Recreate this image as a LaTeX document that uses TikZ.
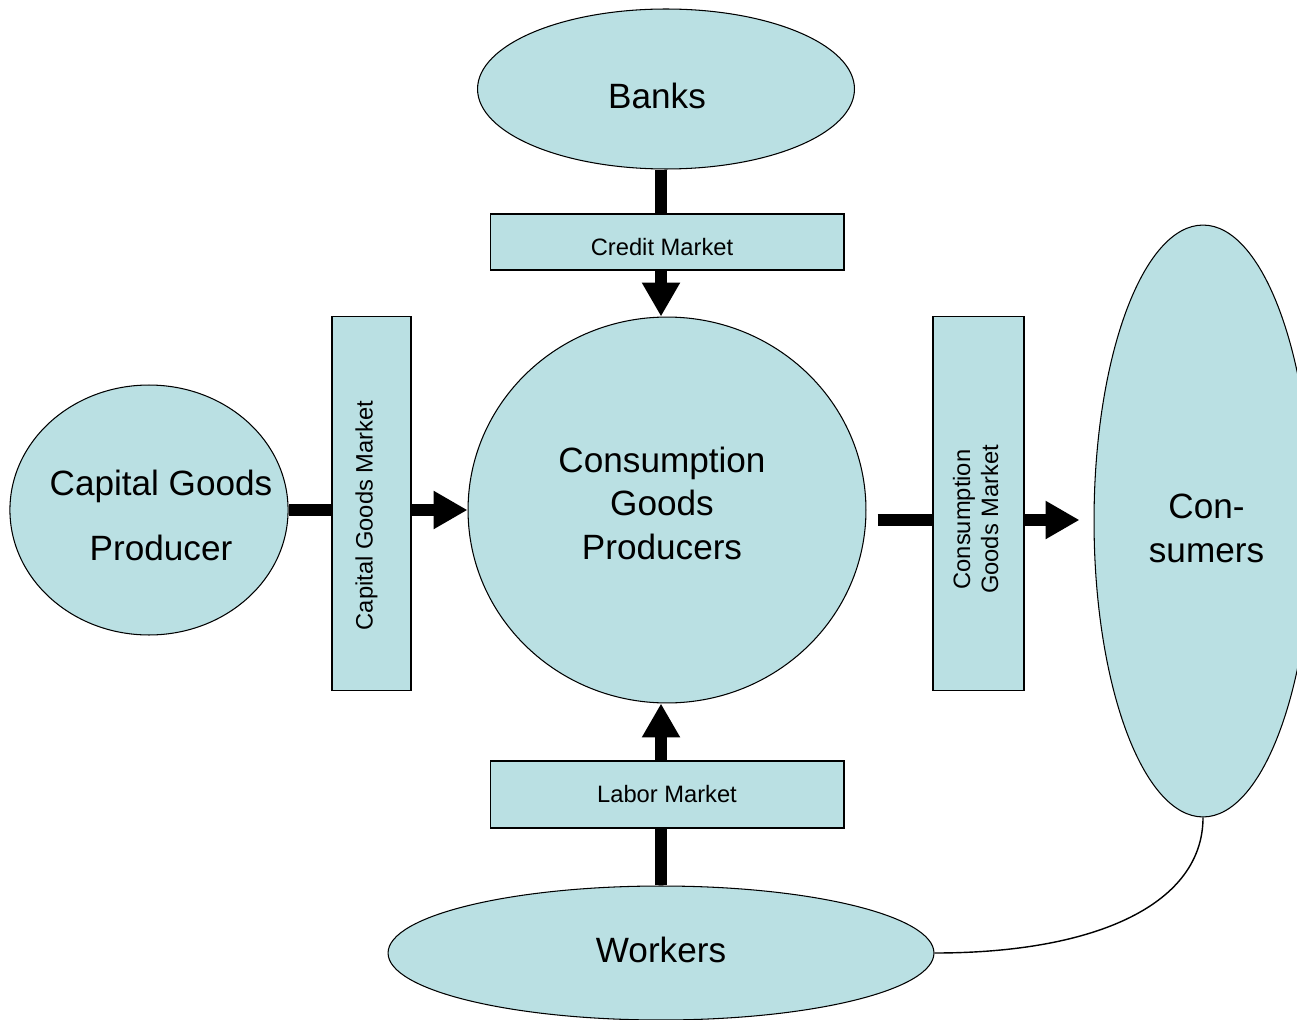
\documentclass[tikz,border=0pt]{standalone}
\usepackage{fontspec}
\setmainfont{Liberation Sans}
\usepackage{graphicx}
\usetikzlibrary{shapes.geometric,arrows.meta}
\definecolor{boxfill}{RGB}{186,224,227}
\begin{document}
\begin{tikzpicture}[x=0.02cm,y=-0.02cm,
  shapebox/.style={draw=black,line width=0.6pt,fill=boxfill,inner sep=0pt,align=center},
  oval/.style={shapebox,ellipse},
  mkt/.style={shapebox,rectangle,font=\fontsize{13.5}{16}\selectfont},
  big/.style={font=\fontsize{20}{25}\selectfont},
  flow/.style={line width=6.5pt},
  flowarrow/.style={flow,-{Triangle[width=0.72cm,length=0.68cm]}},
  thinlink/.style={line width=0.8pt}]
\useasboundingbox (0,0) rectangle (1297,1020);
\clip (0,0) rectangle (1297,1020);

\node[oval,big,minimum width=7.54cm,minimum height=3.2cm] (banks) at (666,89) {\rule{0pt}{22.3pt}Banks\rule{0.36cm}{0pt}};
\node[mkt,minimum width=7.08cm,minimum height=1.12cm] (credit) at (667,242) {\rule{0pt}{15.4pt}Credit Market\rule{0.2cm}{0pt}};
\node[oval,minimum width=7.96cm,minimum height=7.72cm,font=\fontsize{20}{24.7}\selectfont] (cgp) at (667,510) {Consumption\rule{0.2cm}{0pt}\\Goods\rule{0.2cm}{0pt}\\Producers\rule{0.2cm}{0pt}\rule[-7.9pt]{0pt}{7.9pt}};
\node[oval,minimum width=5.48cm,minimum height=5cm,inner xsep=-0.5cm,font=\fontsize{20}{37}\selectfont] (capprod) at (149,510) {\rule{0.48cm}{0pt}\rule{0pt}{20.6pt}Capital Goods\\\rule{0.48cm}{0pt}Producer};
\node[mkt,minimum width=1.58cm,minimum height=7.5cm] (cgm) at (371.5,503.5) {\rotatebox{90}{\rule[-8.5pt]{0pt}{8.5pt}Capital Goods Market\rule{0.48cm}{0pt}}};
\node[mkt,minimum width=1.82cm,minimum height=7.5cm] (csm) at (978.5,503.5) {\rotatebox{90}{\begin{tabular}{@{}c@{}}Consumption\\Goods Market\end{tabular}\rule{0.64cm}{0pt}}};
\node[oval,minimum width=4.36cm,minimum height=11.84cm,font=\fontsize{20}{24.7}\selectfont] (cons) at (1203,521) {\rule{0.14cm}{0pt}\rule{0pt}{22.4pt}Con-\\\rule{0.14cm}{0pt}sumers};
\node[mkt,minimum width=7.08cm,minimum height=1.34cm] (labor) at (667,794.5) {Labor Market};
\node[oval,big,minimum width=10.92cm,minimum height=2.68cm] (workers) at (661,953) {Workers\rule[-3.4pt]{0pt}{3.4pt}};

\coordinate (ax) at (661,0);
\coordinate (ry) at (0,520);
\draw[flow] (ax |- banks.south) -- (ax |- credit.north);
\draw[flowarrow] (ax |- credit.south) -- (ax |- cgp.north);
\draw[flow] (ax |- workers.north) -- (ax |- labor.south);
\draw[flowarrow] (ax |- labor.north) -- (ax |- cgp.south);
\draw[flow] (capprod.east) -- (capprod.east -| cgm.west);
\draw[flowarrow] (capprod.east -| cgm.east) -- (capprod.east -| cgp.west);
\draw[flow] ([xshift=0.22cm]ry -| cgp.east) -- (ry -| csm.west);
\draw[flowarrow] (ry -| csm.east) -- ([xshift=-0.28cm]ry -| cons.west);
\draw[thinlink] (workers.east) .. controls +(165,0) and +(0,85) .. (cons.south);
\end{tikzpicture}
\end{document}
